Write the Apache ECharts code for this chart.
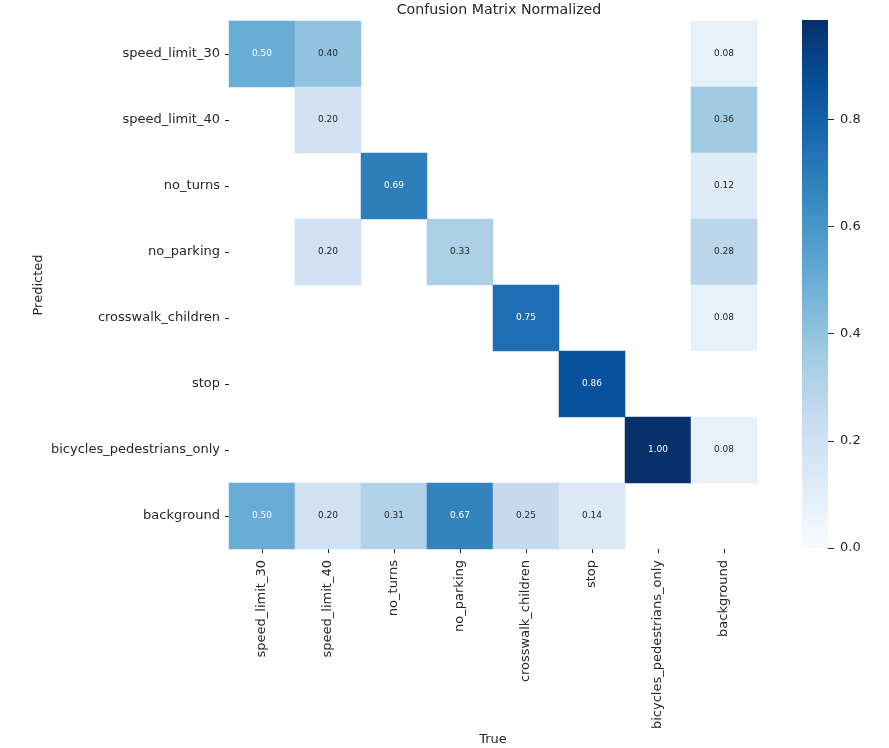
<!DOCTYPE html>
<html><head><meta charset="utf-8">
<script src="https://cdn.jsdelivr.net/npm/echarts@6/dist/echarts.min.js"></script>
<style>html,body{margin:0;padding:0;background:#fff}#c{width:889px;height:748px}</style>
</head><body><div id="c"></div>
<script>
const trueLabels = ['speed_limit_30','speed_limit_40','no_turns','no_parking','crosswalk_children','stop','bicycles_pedestrians_only','background'];
const predLabels = ['speed_limit_30','speed_limit_40','no_turns','no_parking','crosswalk_children','stop','bicycles_pedestrians_only','background'];
const row_speed_limit_30 = [0.50,0.40,0,0,0,0,0,0.08];
const row_speed_limit_40 = [0,0.20,0,0,0,0,0,0.36];
const row_no_turns = [0,0,0.69,0,0,0,0,0.12];
const row_no_parking = [0,0.20,0,0.33,0,0,0,0.28];
const row_crosswalk_children = [0,0,0,0,0.75,0,0,0.08];
const row_stop = [0,0,0,0,0,0.86,0,0];
const row_bicycles_pedestrians_only = [0,0,0,0,0,0,1.00,0.08];
const row_background = [0.50,0.20,0.31,0.67,0.25,0.14,0,0];
const colorbarTicks = [0.0,0.2,0.4,0.6,0.8];
const vmin = 0, vmax = 0.985;
const blues = ['#f7fbff','#deebf7','#c6dbef','#9ecae1','#6baed6','#4292c6','#2171b5','#08519c','#08306b'];

const rows = [row_speed_limit_30,row_speed_limit_40,row_no_turns,row_no_parking,row_crosswalk_children,row_stop,row_bicycles_pedestrians_only,row_background];
const data = [];
rows.forEach((r, yi) => r.forEach((v, xi) => {
  if (v > 0) data.push({value:[xi, yi, v], label:{color: v > 0.45 ? '#ffffff' : '#262626'}});
}));

const cb = {left:802, top:20, width:26, height:528};
const font = 'DejaVu Sans';
const chart = echarts.init(document.getElementById('c'));
chart.setOption({
  backgroundColor:'#fff',
  animation:false,
  textStyle:{fontFamily:font},
  title:{text:'Confusion Matrix Normalized', left:494, top:-2, textAlign:'center',
    textStyle:{fontFamily:font,fontSize:14.2,fontWeight:'normal',color:'#262626'}},
  graphic:[{type:'rect', left:cb.left, top:cb.top, z:-1, silent:true,
    shape:{x:0,y:0,width:cb.width,height:cb.height},
    style:{fill:new echarts.graphic.LinearGradient(0,1,0,0,
      blues.map((c,i)=>({offset:i/(blues.length-1), color:c})))}}],
  grid:[
    {left:229, top:21, width:528, height:528, outerBoundsMode:'none', containLabel:false},
    {left:cb.left, top:cb.top, width:cb.width, height:cb.height, outerBoundsMode:'none', containLabel:false}
  ],
  xAxis:[
    {type:'category', gridIndex:0, data:trueLabels, position:'bottom',
      name:'True', nameLocation:'middle', nameGap:184, nameMoveOverlap:false,
      nameTextStyle:{fontFamily:font,fontSize:13,color:'#262626'},
      axisLine:{show:false}, axisTick:{show:true, alignWithLabel:true, length:4, lineStyle:{color:'#262626'}},
      axisLabel:{rotate:90, fontFamily:font, fontSize:13, color:'#262626', margin:11, interval:0},
      splitLine:{show:false}},
    {type:'value', gridIndex:1, show:false, min:0, max:1,
      axisLine:{show:false, onZero:false}, axisTick:{show:false}, axisLabel:{show:false}, splitLine:{show:false}}
  ],
  yAxis:[
    {type:'category', gridIndex:0, data:predLabels, inverse:true,
      name:'Predicted', nameLocation:'middle', nameGap:184, nameRotate:90, nameMoveOverlap:false,
      nameTextStyle:{fontFamily:font,fontSize:13,color:'#262626'},
      axisLine:{show:false}, axisTick:{show:true, alignWithLabel:true, length:4, lineStyle:{color:'#262626'}},
      axisLabel:{fontFamily:font, fontSize:13, color:'#262626', margin:9, interval:0},
      splitLine:{show:false}},
    {type:'value', gridIndex:1, position:'right', min:vmin, max:vmax,
      axisLine:{show:false, onZero:false},
      axisTick:{show:true, inside:false, length:6, lineStyle:{color:'#262626'}, customValues:colorbarTicks},
      axisLabel:{fontFamily:font, fontSize:13, color:'#262626', margin:12, customValues:colorbarTicks, formatter:v=>v.toFixed(1)},
      splitLine:{show:false}}
  ],
  visualMap:{type:'continuous', show:false, min:vmin, max:vmax, seriesIndex:0, inRange:{color:blues}},
  series:[{type:'heatmap', xAxisIndex:0, yAxisIndex:0, data:data,
    label:{show:true, fontFamily:font, fontSize:9, formatter:p=>p.value[2].toFixed(2)},
    itemStyle:{borderWidth:0}, emphasis:{disabled:true}}]
});
</script></body></html>
